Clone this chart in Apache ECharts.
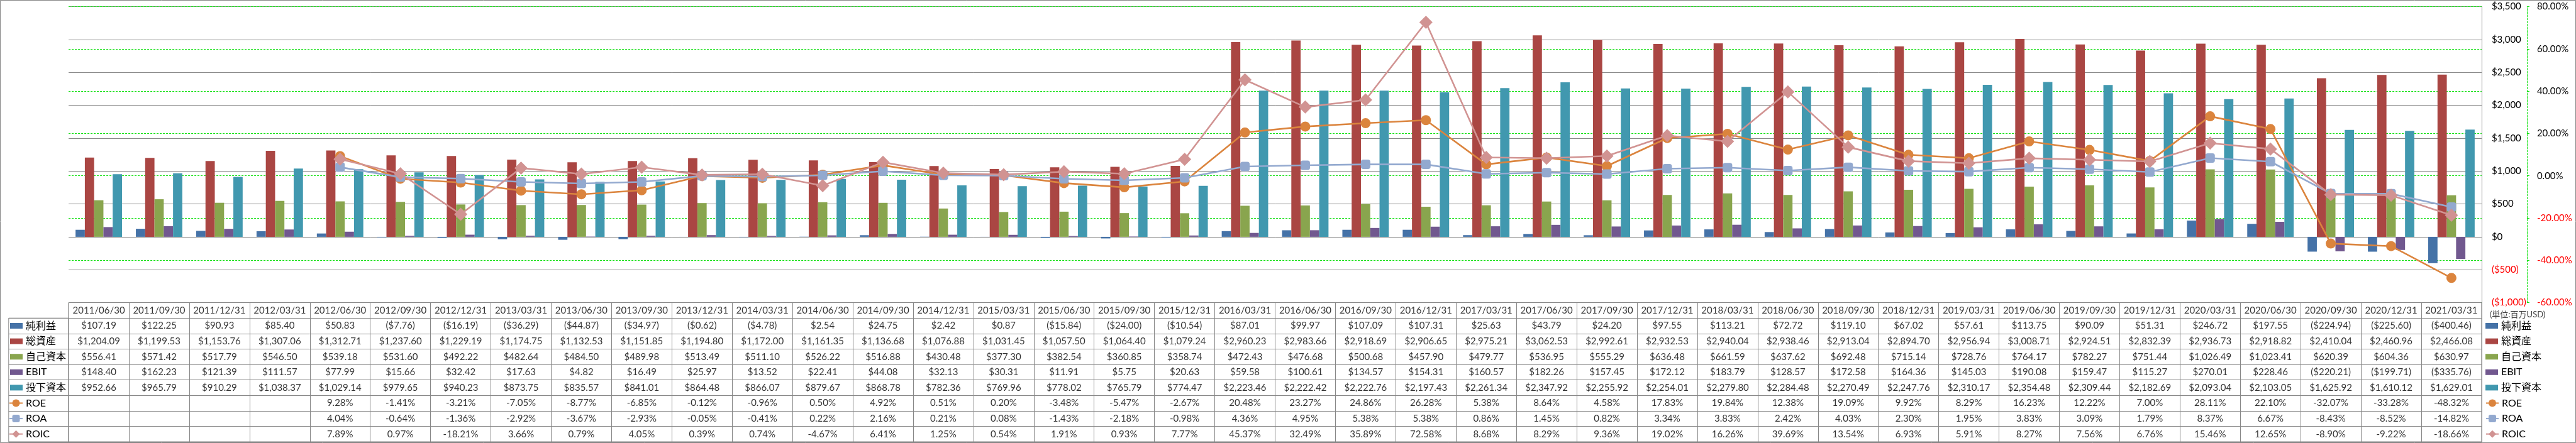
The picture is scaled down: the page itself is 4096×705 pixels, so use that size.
<!DOCTYPE html>
<html><head><meta charset="utf-8">
<script src="https://cdn.jsdelivr.net/npm/echarts@6/dist/echarts.min.js"></script>
<style>html,body{margin:0;padding:0;background:#fff}#c{width:4096px;height:705px}</style>
</head><body><div id="c"></div>
<script>
// ---------------- data ----------------
const categories = ['2011/06/30','2011/09/30','2011/12/31','2012/03/31','2012/06/30','2012/09/30','2012/12/31','2013/03/31','2013/06/30','2013/09/30','2013/12/31','2014/03/31','2014/06/30','2014/09/30','2014/12/31','2015/03/31','2015/06/30','2015/09/30','2015/12/31','2016/03/31','2016/06/30','2016/09/30','2016/12/31','2017/03/31','2017/06/30','2017/09/30','2017/12/31','2018/03/31','2018/06/30','2018/09/30','2018/12/31','2019/03/31','2019/06/30','2019/09/30','2019/12/31','2020/03/31','2020/06/30','2020/09/30','2020/12/31','2021/03/31'];
const netIncome = [107.19,122.25,90.93,85.40,50.83,-7.76,-16.19,-36.29,-44.87,-34.97,-0.62,-4.78,2.54,24.75,2.42,0.87,-15.84,-24.00,-10.54,87.01,99.97,107.09,107.31,25.63,43.79,24.20,97.55,113.21,72.72,119.10,67.02,57.61,113.75,90.09,51.31,246.72,197.55,-224.94,-225.60,-400.46];
const totalAssets = [1204.09,1199.53,1153.76,1307.06,1312.71,1237.60,1229.19,1174.75,1132.53,1151.85,1194.80,1172.00,1161.35,1136.68,1076.88,1031.45,1057.50,1064.40,1079.24,2960.23,2983.66,2918.69,2906.65,2975.21,3062.53,2992.61,2932.53,2940.04,2938.46,2913.04,2894.70,2956.94,3008.71,2924.51,2832.39,2936.73,2918.82,2410.04,2460.96,2466.08];
const equity = [556.41,571.42,517.79,546.50,539.18,531.60,492.22,482.64,484.50,489.98,513.49,511.10,526.22,516.88,430.48,377.30,382.54,360.85,358.74,472.43,476.68,500.68,457.90,479.77,536.95,555.29,636.48,661.59,637.62,692.48,715.14,728.76,764.17,782.27,751.44,1026.49,1023.41,620.39,604.36,630.97];
const ebit = [148.40,162.23,121.39,111.57,77.99,15.66,32.42,17.63,4.82,16.49,25.97,13.52,22.41,44.08,32.13,30.31,11.91,5.75,20.63,59.58,100.61,134.57,154.31,160.57,182.26,157.45,172.12,183.79,128.57,172.58,164.36,145.03,190.08,159.47,115.27,270.01,228.46,-220.21,-199.71,-335.76];
const investedCapital = [952.66,965.79,910.29,1038.37,1029.14,979.65,940.23,873.75,835.57,841.01,864.48,866.07,879.67,868.78,782.36,769.96,778.02,765.79,774.47,2223.46,2222.42,2222.76,2197.43,2261.34,2347.92,2255.92,2254.01,2279.80,2284.48,2270.49,2247.76,2310.17,2354.48,2309.44,2182.69,2093.04,2103.05,1625.92,1610.12,1629.01];
const roe = [null,null,null,null,9.28,-1.41,-3.21,-7.05,-8.77,-6.85,-0.12,-0.96,0.50,4.92,0.51,0.20,-3.48,-5.47,-2.67,20.48,23.27,24.86,26.28,5.38,8.64,4.58,17.83,19.84,12.38,19.09,9.92,8.29,16.23,12.22,7.00,28.11,22.10,-32.07,-33.28,-48.32];
const roa = [null,null,null,null,4.04,-0.64,-1.36,-2.92,-3.67,-2.93,-0.05,-0.41,0.22,2.16,0.21,0.08,-1.43,-2.18,-0.98,4.36,4.95,5.38,5.38,0.86,1.45,0.82,3.34,3.83,2.42,4.03,2.30,1.95,3.83,3.09,1.79,8.37,6.67,-8.43,-8.52,-14.82];
const roic = [null,null,null,null,7.89,0.97,-18.21,3.66,0.79,4.05,0.39,0.74,-4.67,6.41,1.25,0.54,1.91,0.93,7.77,45.37,32.49,35.89,72.58,8.68,8.29,9.36,19.02,16.26,39.69,13.54,6.93,5.91,8.27,7.56,6.76,15.46,12.65,-8.90,-9.22,-18.66];
const barNames = ['純利益','総資産','自己資本','EBIT','投下資本'];
const lineNames = ['ROE','ROA','ROIC'];
const moneyAxis = {min: -1000, max: 3500, step: 500};
const pctAxis = {min: -60, max: 80, step: 20};
const unitLabel = '(単位:百万USD)';

// ---------------- formatting ----------------
const FONT = "Lato, 'Noto Sans CJK JP', sans-serif";
const money = v => { const a = Math.abs(v).toLocaleString('en-US',{minimumFractionDigits:2,maximumFractionDigits:2}); return v < 0 ? '($' + a + ')' : '$' + a; };
const moneyTick = v => { const n = Number(v); const a = Math.abs(n).toLocaleString('en-US'); return n < 0 ? '($' + a + ')' : '$' + a; };
const pct = v => v.toFixed(2) + '%';
const negColor = v => Number(v) < 0 ? '#FF0000' : '#000000';

const barColors = ['#4572A7','#AA4643','#89A54E','#71588F','#4198AF'];
const lineColors = ['#DB843D','#93A9CF','#D19392'];
const lineSymbols = [['circle',16],['roundRect',15],['diamond',21]];
const GRID_GRAY = '#878787';
const GREEN = '#11E011';

// layout (px)
const plotL = 109.1, plotW = 3836.8, plotT = 10.5, plotH = 471.1;
const tabT = plotT + plotH, rowH = 24.6, nRows = 9;

// table rows
const tableRows = [
  {data: categories, fmt: s => s},
  {data: netIncome, fmt: money},
  {data: totalAssets, fmt: money},
  {data: equity, fmt: money},
  {data: ebit, fmt: money},
  {data: investedCapital, fmt: money},
  {data: roe, fmt: pct},
  {data: roa, fmt: pct},
  {data: roic, fmt: pct}
];
const cellPts = [], cellTexts = [];
tableRows.forEach((row, r) => row.data.forEach((v, i) => {
  cellPts.push([i, r + 0.5]);
  cellTexts.push(v == null ? '' : row.fmt(v));
}));

const barSeries = [netIncome, totalAssets, equity, ebit, investedCapital].map((d, k) => ({
  type: 'bar', name: barNames[k], data: d, xAxisIndex: 0, yAxisIndex: 0,
  itemStyle: {color: barColors[k]}, barGap: '0%', barCategoryGap: '23%'
}));
const lineSeries = [roe, roa, roic].map((d, k) => ({
  type: 'line', name: lineNames[k], data: d, xAxisIndex: 0, yAxisIndex: 1,
  symbol: lineSymbols[k][0], symbolSize: lineSymbols[k][1], showAllSymbol: true,
  lineStyle: {width: 2.6, color: lineColors[k]}, itemStyle: {color: lineColors[k]}, z: 5
}));

const legText = {fontSize: 16, lineHeight: 18, fontFamily: FONT, color: '#000'};
const legGap = rowH - 18;
const rowCenter = r => tabT + rowH * r + rowH / 2;

const chart = echarts.init(document.getElementById('c'), null, {renderer: 'canvas'});
chart.setOption({
  animation: false,
  backgroundColor: '#fff',
  textStyle: {fontFamily: FONT},
  graphic: [{type: 'rect', silent: true, shape: {x: 0.5, y: 0.5, width: 4095, height: 704}, style: {fill: 'none', stroke: '#868686', lineWidth: 1}}],
  grid: [
    {left: plotL, top: plotT, width: plotW, height: plotH, outerBoundsMode: 'none'},
    {left: plotL, top: tabT, width: plotW, height: rowH * nRows, show: true, borderColor: GRID_GRAY, borderWidth: 1, outerBoundsMode: 'none'},
    {left: 13.8, top: tabT + rowH, width: plotL - 13.8, height: rowH * (nRows - 1), show: true, borderColor: GRID_GRAY, borderWidth: 1, outerBoundsMode: 'none'}
  ],
  legend: [
    {data: barNames, orient: 'vertical', left: 16, top: rowCenter(1) - 9, itemWidth: 20, itemHeight: 9, itemGap: legGap, padding: 0, icon: 'rect', textStyle: legText, selectedMode: false},
    {data: lineNames, orient: 'vertical', left: 14, top: rowCenter(6) - 9, itemWidth: 21, itemHeight: 15, itemGap: legGap, padding: 0, textStyle: legText, selectedMode: false},
    {data: barNames, orient: 'vertical', left: 3952, top: rowCenter(1) - 9, itemWidth: 20, itemHeight: 9, itemGap: legGap, padding: 0, icon: 'rect', textStyle: legText, selectedMode: false},
    {data: lineNames, orient: 'vertical', left: 3952, top: rowCenter(6) - 9, itemWidth: 20, itemHeight: 15, itemGap: legGap, padding: 0, textStyle: legText, selectedMode: false}
  ],
  xAxis: [
    {type: 'category', gridIndex: 0, data: categories, axisLine: {show: false}, axisTick: {show: false}, axisLabel: {show: false}, splitLine: {show: false}},
    {type: 'category', gridIndex: 1, data: categories, axisLine: {show: false}, axisTick: {show: false}, axisLabel: {show: false},
     splitLine: {show: true, interval: 0, lineStyle: {color: GRID_GRAY, width: 1}}},
    {type: 'category', gridIndex: 2, data: [''], show: false}
  ],
  yAxis: [
    {type: 'value', gridIndex: 0, position: 'right', min: moneyAxis.min, max: moneyAxis.max, interval: moneyAxis.step,
     axisLine: {show: true, lineStyle: {color: GRID_GRAY, width: 1}}, axisTick: {show: false},
     axisLabel: {margin: 16, fontSize: 15, fontFamily: FONT, formatter: moneyTick, color: negColor},
     splitLine: {show: true, lineStyle: {color: GRID_GRAY, width: 1}},
     name: unitLabel, nameLocation: 'start', nameGap: 19,
     nameTextStyle: {align: 'left', verticalAlign: 'middle', padding: [0, 0, 0, 13], fontSize: 13, color: '#404040', fontFamily: FONT}},
    {type: 'value', gridIndex: 0, position: 'right', offset: 72, min: pctAxis.min, max: pctAxis.max, interval: pctAxis.step,
     axisLine: {show: true, lineStyle: {color: GREEN, width: 1, type: [3, 2]}},
     axisTick: {show: true, length: 4, lineStyle: {color: GREEN, width: 1}},
     axisLabel: {margin: 16, fontSize: 15, fontFamily: FONT, formatter: v => pct(Number(v)), color: negColor},
     splitLine: {show: true, lineStyle: {color: GREEN, width: 1, type: [3, 2]}}},
    {type: 'value', gridIndex: 1, min: 0, max: nRows, interval: 1, inverse: true, axisLine: {show: false}, axisTick: {show: false}, axisLabel: {show: false},
     splitLine: {show: true, lineStyle: {color: GRID_GRAY, width: 1}}},
    {type: 'value', gridIndex: 2, min: 0, max: nRows - 1, interval: 1, inverse: true, axisLine: {show: false}, axisTick: {show: false}, axisLabel: {show: false},
     splitLine: {show: true, lineStyle: {color: GRID_GRAY, width: 1}}}
  ],
  series: [
    ...barSeries,
    ...lineSeries,
    {type: 'scatter', name: 'table', xAxisIndex: 1, yAxisIndex: 2, data: cellPts, symbolSize: 1, silent: true,
     itemStyle: {color: 'rgba(0,0,0,0)'},
     label: {show: true, position: 'inside', color: '#000', fontSize: 15, fontFamily: FONT,
             formatter: p => cellTexts[p.dataIndex]}}
  ]
});
</script></body></html>
